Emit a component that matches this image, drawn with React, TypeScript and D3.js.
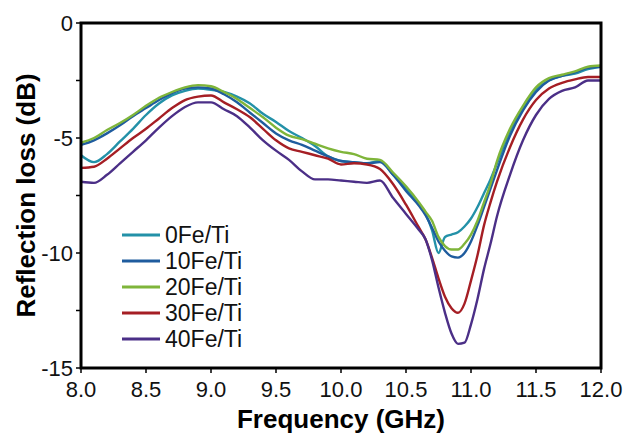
import React, { useRef, useEffect } from "react";
import * as d3 from "d3";

// frequency grid (GHz)
const freq = [
  8.0, 8.1, 8.2, 8.3, 8.4, 8.5, 8.6, 8.7, 8.8, 8.9, 9.0, 9.1, 9.2, 9.3, 9.4,
  9.5, 9.6, 9.7, 9.8, 9.9, 10.0, 10.1, 10.2, 10.3, 10.4, 10.5, 10.6, 10.65,
  10.7, 10.75, 10.8, 10.85, 10.9, 10.95, 11.0, 11.05, 11.1, 11.15, 11.2, 11.3,
  11.4, 11.5, 11.6, 11.7, 11.8, 11.9, 12.0,
];

// reflection loss (dB) per sample
const fe0 = [
  -5.75, -6.05, -5.7, -5.15, -4.6, -4.0, -3.5, -3.15, -2.95, -2.85, -2.9, -3.0,
  -3.2, -3.5, -3.95, -4.3, -4.7, -5.0, -5.35, -5.8, -6.0, -6.05, -6.1, -6.0,
  -6.6, -7.2, -7.9, -8.3, -9.0, -10.0, -9.3, -9.2, -9.1, -8.85, -8.5, -8.0,
  -7.4, -6.8, -6.1, -4.7, -3.7, -2.9, -2.5, -2.3, -2.2, -2.0, -1.9,
];
const fe10 = [
  -5.3, -5.1, -4.8, -4.45, -4.05, -3.7, -3.35, -3.05, -2.85, -2.8, -2.85, -3.1,
  -3.45, -3.9, -4.35, -4.8, -5.1, -5.3, -5.55, -5.8, -6.0, -6.05, -6.1, -6.05,
  -6.6, -7.3, -7.95, -8.35, -8.9, -9.5, -9.9, -10.15, -10.2, -10.0, -9.5, -8.8,
  -8.0, -7.2, -6.4, -4.9, -3.8, -3.0, -2.5, -2.3, -2.15, -1.95, -1.9,
];
const fe20 = [
  -5.2, -5.0, -4.65, -4.35, -4.0, -3.6, -3.25, -3.0, -2.8, -2.7, -2.75, -3.0,
  -3.3, -3.7, -4.1, -4.55, -4.9, -5.05, -5.25, -5.45, -5.6, -5.7, -5.9, -5.95,
  -6.5, -7.1, -7.8, -8.2, -8.6, -9.3, -9.7, -9.85, -9.85, -9.6, -9.2, -8.6,
  -7.8, -7.0, -6.0, -4.6, -3.6, -2.8, -2.4, -2.25, -2.1, -1.9, -1.85,
];
const fe30 = [
  -6.3, -6.25, -5.9, -5.45, -5.0, -4.6, -4.15, -3.7, -3.35, -3.2, -3.15, -3.45,
  -3.75, -4.1, -4.6, -5.1, -5.45, -5.6, -5.75, -5.9, -6.15, -6.1, -6.15, -6.35,
  -7.0, -7.9, -8.9, -9.4, -10.2, -11.1, -11.9, -12.4, -12.6, -12.2, -11.2,
  -10.1, -8.8, -7.8, -6.9, -5.4, -4.2, -3.35, -2.85, -2.6, -2.45, -2.35, -2.35,
];
const fe40 = [
  -6.9, -6.95, -6.6, -6.1, -5.6, -5.1, -4.55, -4.05, -3.65, -3.45, -3.45, -3.75,
  -4.05, -4.55, -5.1, -5.55, -5.95, -6.45, -6.8, -6.8, -6.85, -6.9, -6.95,
  -6.85, -7.6, -8.3, -9.0, -9.4, -10.3, -11.5, -12.6, -13.5, -13.95, -13.9,
  -13.1, -12.0, -10.7, -9.6, -8.4, -6.6, -5.1, -4.0, -3.3, -2.95, -2.8, -2.5,
  -2.5,
];

const seriesNames = ["0Fe/Ti", "10Fe/Ti", "20Fe/Ti", "30Fe/Ti", "40Fe/Ti"];
const seriesValues = [fe0, fe10, fe20, fe30, fe40];
const seriesColors = ["#2391a8", "#1f5c9e", "#7fb53a", "#a51e24", "#4b2f87"];

const xTicks = [8.0, 8.5, 9.0, 9.5, 10.0, 10.5, 11.0, 11.5, 12.0];
const yTicks = [0, -2.5, -5, -7.5, -10, -12.5, -15];
const yLabels = [0, -5, -10, -15];

const W = 626;
const H = 436;
const FONT = "Liberation Sans, Arial, sans-serif";

export default function App() {
  const ref = useRef<SVGSVGElement>(null);

  useEffect(() => {
    const svg = d3.select(ref.current);
    svg.selectAll("*").remove();

    const left = 81;
    const right = 601;
    const top = 23;
    const bottom = 368;

    const x = d3.scaleLinear().domain([8, 12]).range([left, right]);
    const y = d3.scaleLinear().domain([0, -15]).range([top, bottom]);

    svg.append("rect").attr("width", W).attr("height", H).attr("fill", "#fff");

    // curves
    const line = d3
      .line<number>()
      .x((d, i) => x(freq[i]))
      .y((d) => y(d))
      .curve(d3.curveMonotoneX);

    const plot = svg.append("g");
    seriesValues.forEach((vals, i) => {
      plot
        .append("path")
        .attr("d", line(vals))
        .attr("fill", "none")
        .attr("stroke", seriesColors[i])
        .attr("stroke-width", 2.4)
        .attr("stroke-linejoin", "round");
    });

    // ticks
    svg
      .append("g")
      .selectAll("line")
      .data(xTicks)
      .enter()
      .append("line")
      .attr("x1", (d) => x(d))
      .attr("x2", (d) => x(d))
      .attr("y1", bottom)
      .attr("y2", bottom + 5)
      .attr("stroke", "#000")
      .attr("stroke-width", 1.5);

    svg
      .append("g")
      .selectAll("line")
      .data(yTicks)
      .enter()
      .append("line")
      .attr("x1", left - 5)
      .attr("x2", left)
      .attr("y1", (d) => y(d))
      .attr("y2", (d) => y(d))
      .attr("stroke", "#000")
      .attr("stroke-width", 1.5);

    // frame
    svg
      .append("rect")
      .attr("x", left)
      .attr("y", top)
      .attr("width", right - left)
      .attr("height", bottom - top)
      .attr("fill", "none")
      .attr("stroke", "#000")
      .attr("stroke-width", 3);

    // tick labels
    svg
      .append("g")
      .selectAll("text")
      .data(xTicks)
      .enter()
      .append("text")
      .attr("x", (d) => x(d))
      .attr("y", 397)
      .attr("text-anchor", "middle")
      .attr("font-family", FONT)
      .attr("font-size", 22)
      .attr("fill", "#111")
      .text((d) => d.toFixed(1));

    svg
      .append("g")
      .selectAll("text")
      .data(yLabels)
      .enter()
      .append("text")
      .attr("x", 73)
      .attr("y", (d) => y(d))
      .attr("dy", "0.36em")
      .attr("text-anchor", "end")
      .attr("font-family", FONT)
      .attr("font-size", 22)
      .attr("fill", "#111")
      .text((d) => String(d));

    // axis titles
    svg
      .append("text")
      .attr("x", (left + right) / 2)
      .attr("y", 428)
      .attr("text-anchor", "middle")
      .attr("font-family", FONT)
      .attr("font-weight", "bold")
      .attr("font-size", 26)
      .attr("fill", "#000")
      .text("Frequency (GHz)");

    svg
      .append("text")
      .attr("transform", `translate(35,${(top + bottom) / 2}) rotate(-90)`)
      .attr("text-anchor", "middle")
      .attr("font-family", FONT)
      .attr("font-weight", "bold")
      .attr("font-size", 26)
      .attr("fill", "#000")
      .text("Reflection loss (dB)");

    // legend
    const legend = svg.append("g").attr("transform", "translate(122,235)");
    seriesNames.forEach((name, i) => {
      const row = legend.append("g").attr("transform", `translate(0,${i * 26})`);
      row
        .append("line")
        .attr("x1", 0)
        .attr("x2", 38)
        .attr("stroke", seriesColors[i])
        .attr("stroke-width", 3);
      row
        .append("text")
        .attr("x", 43)
        .attr("dy", "0.36em")
        .attr("font-family", FONT)
        .attr("font-size", 23)
        .attr("fill", "#111")
        .text(name);
    });
  }, []);

  return (
    <svg
      ref={ref}
      width={W}
      height={H}
      style={{ position: "absolute", left: 0, top: 0, display: "block" }}
    />
  );
}
